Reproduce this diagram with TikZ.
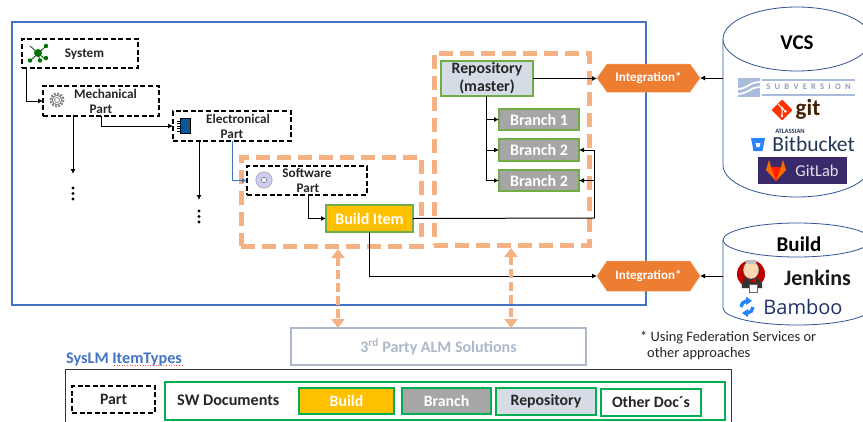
\documentclass[tikz,border=0pt]{standalone}
\usepackage{fontspec}
\setmainfont{Carlito}
\newfontfamily\logofont{Open Sans}
\usetikzlibrary{arrows.meta}
\definecolor{frameblue}{HTML}{4472C4}
\definecolor{peach}{HTML}{F4B183}
\definecolor{leaf}{HTML}{70AD47}
\definecolor{docgreen}{HTML}{00B050}
\definecolor{hexorange}{HTML}{ED7D31}
\definecolor{gold}{HTML}{FFC000}
\definecolor{midgrey}{HTML}{A6A6A6}
\definecolor{paleblue}{HTML}{D6DCE5}
\definecolor{almgrey}{HTML}{ADB9CA}
\definecolor{cylblue}{HTML}{2F5597}
\definecolor{svnblue}{HTML}{A9BCDD}
\definecolor{navy}{HTML}{253858}
\definecolor{bitblue}{HTML}{2684FF}
\definecolor{labpurple}{HTML}{3B2A6B}
\newcommand{\bx}[7]{%
  \pgfmathsetmacro{\bxw}{#5-#3}\pgfmathsetmacro{\bxh}{#6-#4}%
  \pgfmathsetmacro{\bxx}{(#5+#3)/2}\pgfmathsetmacro{\bxy}{(#6+#4)/2}%
  \node[#2,minimum width=\bxw pt,minimum height=\bxh pt] (#1) at (\bxx,\bxy) {#7};}
\newcommand{\hexat}[5]{%
  \pgfmathsetmacro{\hm}{(#3+#5)/2}%
  \filldraw[fill=hexorange,draw=hexorange!70,line width=.5pt] (#2,\hm) -- (#2+10,#3) -- (#4-10,#3) -- (#4,\hm) -- (#4-10,#5) -- (#2+10,#5) -- cycle;
  \bx{#1}{base,text=white,font=\bfseries\fontsize{13}{14}\selectfont}{#2}{#3}{#4}{#5}{Integration*}}
\tikzset{
  base/.style={inner sep=0pt,outer sep=0pt,align=center},
  partbox/.style={base,draw=black,line width=1.9pt,dash pattern=on 5pt off 2.6pt},
  parttext/.style={inner sep=0pt,font=\bfseries\fontsize{13.2}{14}\selectfont,text=black!85},
  zone/.style={base,draw=peach,line width=5pt,dash pattern=on 14pt off 7pt},
  conn/.style={draw=black,line width=1pt,-{Latex[length=5pt,width=5pt]}},
  bluecon/.style={conn,draw=frameblue,-{Latex[length=5pt,width=5pt,color=frameblue]}},
  peacharrow/.style={draw=peach,line width=3.4pt,dash pattern=on 9pt off 4pt,{Triangle[length=9pt,width=13pt,color=peach]}-{Triangle[length=9pt,width=13pt,color=peach]}},
  repo/.style={base,draw=leaf,fill=paleblue,line width=1.8pt,font=\bfseries\fontsize{15.8}{18}\selectfont,text=black!85},
  branchbox/.style={base,draw=leaf,fill=midgrey,line width=1.8pt,font=\bfseries\fontsize{16}{16}\selectfont,text=white},
  builditem/.style={base,draw=leaf,fill=gold,line width=1.8pt,font=\bfseries\fontsize{16}{16}\selectfont,text=white},
  legbox/.style={base,line width=1.8pt,draw=docgreen,font=\bfseries\fontsize{15.8}{17}\selectfont},
  cyl/.style={draw=cylblue,line width=.8pt,fill=white},
  vdots/.style={inner sep=0pt,outer sep=0pt,minimum width=4pt},
}
\begin{document}
\begin{tikzpicture}[x=1pt,y=-1pt]
\clip (0,0) rectangle (863,421);
\fill[white] (0,0) rectangle (863,421);
% main frame
\draw[frameblue,line width=2pt] (12,22) rectangle (646,305);
% zones
\bx{zoneA}{zone}{241}{157}{421}{246}{}
\bx{zoneB}{zone}{434}{53}{589}{245}{}
% part boxes
\bx{sys}{partbox}{22}{39}{138}{68}{}
\bx{mech}{partbox}{43}{86}{159}{116}{}
\bx{elec}{partbox}{173}{111}{291}{141}{}
\bx{soft}{partbox}{247}{166}{367}{195}{}
\node[parttext] (tsys) at (84.5,54) {System};
\node[parttext] (tmecha) at (105.5,94) {Mechanical};
\node[parttext] (tmechb) at (101,109) {Part};
\node[parttext] (telea) at (238,119) {Electronical};
\node[parttext] (teleb) at (232,134) {Part};
\node[parttext] (tsofa) at (307,173) {Software};
\node[parttext] (tsofb) at (308,188) {Part};
% icons in parts
\begin{scope}[shift={(38,53)}]
  \draw[black!70!green,line width=.8pt] (-8,-7)--(8,7) (8,-7)--(-8,8) (0,0)--(2,8);
  \fill[green!45!black] (0,0) circle (4);
  \foreach \p in {(-8,7.5),(2,7.5),(8,5),(8,-7)} \fill[green!45!black] \p circle (2.2);
\end{scope}
\begin{scope}[shift={(57,100)}]
  \draw[gray,line width=1.8pt,dash pattern=on 2pt off 1.4pt] (0,0) circle (6.5);
  \draw[gray,line width=1pt] (0,0) circle (4.8);
  \draw[gray,line width=.8pt] (0,0) circle (2.5);
\end{scope}
\begin{scope}[shift={(185,126)}]
  \draw[black,line width=.6pt] (-8,-5)--(0,-5) (-8,-2.5)--(0,-2.5) (-8,0)--(0,0) (-8,2.5)--(0,2.5) (-8,5)--(0,5);
  \fill[teal!70!blue] (-4.5,-8) rectangle (5,7.5);
  \draw[black,line width=.6pt] (-4.5,-8) rectangle (5,7.5);
  \draw[black!70,line width=.6pt] (0,-5)--(3,-5)--(3,3);
\end{scope}
\begin{scope}[shift={(264,180)}]
  \fill[gray!40!blue!25!white] (0,0) circle (8.2);
  \draw[gray!70,line width=.6pt] (0,0) circle (8.2);
  \fill[white] (0,0) circle (3);
  \draw[gray!80!black,line width=.6pt] (0,0) circle (2.6);
\end{scope}
% repository, branches, build item
\bx{rep}{repo}{441}{61}{533}{96}{Repository\\(master)}
\bx{bra}{branchbox}{499}{109}{579}{130}{Branch 1}
\bx{brb}{branchbox}{499}{139}{579}{161}{Branch 2}
\bx{brc}{branchbox}{499}{170}{579}{191}{Branch 2}
\bx{bld}{builditem}{326}{205}{413}{232}{Build Item}
% integration
\hexat{ia}{597}{64}{700}{92}
\hexat{ib}{597}{261}{700}{291}
% dots
\node[vdots,minimum height=38pt] (da) at (73,193) {};
\node[vdots,minimum height=34pt] (db) at (199,217) {};
\foreach \y in {188,193.5,199} \fill[black] (73,\y) circle (1.7);
\foreach \y in {211,216.5,222} \fill[black] (199,\y) circle (1.7);
% connectors
\draw[conn] ([xshift=4pt]sys.south west) |- (mech.west);
\draw[conn] ([xshift=30pt]mech.south west) -- (da.north);
\draw[conn] ([xshift=58pt]mech.south west) |- (elec.west);
\draw[conn] ([xshift=26pt]elec.south west) -- (db.north);
\draw[bluecon] ([xshift=59pt]elec.south west) |- (soft.west);
\draw[conn] ([xshift=61pt]soft.south west) |- (bld.west);
\draw[conn] ([xshift=43pt]bld.south west) |- (ib.west);
\coordinate (busfoot) at (594.5,218);
\draw[conn,-] (bld.east) -- (busfoot);
\draw[conn] (busfoot) |- (brb.east);
\draw[conn] (busfoot) |- (brc.east);
\draw[conn] (rep.east) -- (rep.east -| ia.west);
\draw[conn] ([xshift=45pt]rep.south west) |- (bra.west);
\draw[conn] ([xshift=45pt]rep.south west) |- (brb.west);
\draw[conn] ([xshift=45pt]rep.south west) |- (brc.west);
% ALM
\bx{alm}{base,draw=almgrey,line width=2.6pt,text=almgrey,font=\bfseries\fontsize{16}{17}\selectfont}{291}{328}{586}{365}{3\textsuperscript{rd} Party ALM Solutions}
\draw[peacharrow] (zoneA.south -| 338,0) ++(0,3) -- (alm.north -| 338,0);
\draw[peacharrow] (zoneB.south -| 511,0) ++(0,3) -- (alm.north -| 511,0);
% VCS cylinder
\draw[cyl] (723,39) -- (723,165) arc[start angle=180,end angle=0,x radius=74,y radius=32] -- (871,39);
\draw[cyl] (797,39) ellipse[x radius=74,y radius=32];
\node[inner sep=0pt,font=\bfseries\fontsize{21}{22}\selectfont] (tvcs) at (797,43) {VCS};
\coordinate (vcsport) at (723,78);
\draw[conn] (vcsport) -- (ia.east);
% Subversion
\begin{scope}
  \fill[svnblue] (738,78) rectangle (760,97);
  \draw[white,line width=1.8pt] (738,89) .. controls (750,88) and (746,83) .. (760,82);
  \draw[white,line width=1.8pt] (738,94) .. controls (750,93) and (748,88) .. (760,87);
  \fill[svnblue] (762,78.5) rectangle (855,80.5);
  \fill[svnblue] (762,93.5) rectangle (855,95.5);
  \node[inner sep=0pt,text=svnblue!85!black,font=\bfseries\fontsize{8.5}{9}\selectfont] (tsvn) at (808.5,87) {S\,\,\,U\,\,\,B\,\,\,V\,\,\,E\,\,\,R\,\,\,S\,\,\,I\,\,\,O\,\,\,N};
\end{scope}
% git
\fill[orange!40!red,rounded corners=1pt] (782,99.5)--(792.5,110)--(782,120.5)--(771.5,110)--cycle;
\draw[white,line width=1pt] (778,104)--(785.5,111.5) (782,108)--(782,116);
\fill[white] (785.5,111.5) circle (1.4) (782,116) circle (1.4) (782,108) circle (1.4);
\node[inner sep=0pt,text=black!75!orange,font=\bfseries\fontsize{23}{24}\selectfont] (tgit) at (808,109) {git};
% Bitbucket
\node[inner sep=0pt,text=navy,font=\bfseries\fontsize{6.5}{7}\selectfont] (tatl) at (790,131) {ATLASSIAN};
\node[inner sep=0pt,text=navy,font=\fontsize{21.5}{22}\selectfont] (tbit) at (813.5,144) {Bitbucket};
\fill[bitblue] (751,138)--(765,138)--(762.5,151)--(753.5,151)--cycle;
\fill[white] (755.5,143)--(760.5,143)--(759.5,147)--(756.5,147)--cycle;
% GitLab
\fill[labpurple] (758,157) rectangle (847,184);
\fill[orange!85!red] (766,170)--(769,160)--(771,167)--(781,167)--(783,160)--(786,170)--(776,181)--cycle;
\fill[red!75!orange] (771,167)--(781,167)--(776,181)--cycle;
\node[inner sep=0pt,text=white!85!labpurple,font=\fontsize{16.5}{17}\selectfont] (tlab) at (817,170.5) {GitLab};
% Build cylinder
\draw[cyl] (723,240) -- (723,308) arc[start angle=180,end angle=0,x radius=74,y radius=17] -- (871,240);
\draw[cyl] (797,240) ellipse[x radius=74,y radius=17];
\node[inner sep=0pt,font=\bfseries\fontsize{21}{22}\selectfont] (tbuild) at (799,244) {Build};
\coordinate (bldport) at (723,276);
\draw[conn] (bldport) -- (ib.east);
% Jenkins icon
\begin{scope}[shift={(752,275)}]
  \fill[red!75!black] (-1,-1) circle (14);
  \fill[black!80] (-10,13) .. controls (-11,5) and (-6,2) .. (0,2) .. controls (6,2) and (11,6) .. (10,13) -- cycle;
  \fill[orange!30!white] (-1,-5) ellipse[x radius=8,y radius=9];
  \draw[black!70,line width=.5pt] (-1,-5) ellipse[x radius=8,y radius=9];
  \fill[gray!50] (-1,-13) ellipse[x radius=6,y radius=2];
  \fill[red!80!black] (-3,6) -- (4,3.5) -- (4,8) -- cycle;
  \fill[white] (-3,9) rectangle (5,17);
  \draw[black!60,line width=.4pt] (-3,9) rectangle (5,17);
\end{scope}
\node[inner sep=0pt,font=\bfseries\fontsize{22}{23}\selectfont,text=black!90] (tjen) at (817.5,278) {Jenkins};
% Bamboo
\begin{scope}[shift={(747,307)}]
  \draw[bitblue,line width=3.5pt] (-6,0) arc[start angle=180,end angle=265,radius=6];
  \fill[bitblue] (-1,-10.5) -- (5,-6) -- (-1,-2) -- cycle;
  \draw[bitblue,line width=3.5pt] (6,0) arc[start angle=0,end angle=85,radius=6];
  \fill[bitblue] (1,2) -- (-5,6) -- (1,10) -- cycle;
\end{scope}
\node[inner sep=0pt,text=navy!90!blue,font=\logofont\fontsize{20}{21}\selectfont] (tbam) at (803,307) {Bamboo};
% footnote
\node[anchor=west,inner sep=0pt,font=\fontsize{14.4}{15}\selectfont,text=black!85] (fna) at (640,338) {* Using Federation Services or};
\node[anchor=west,inner sep=0pt,font=\fontsize{14.4}{15}\selectfont,text=black!85] (fnb) at (647,354) {other approaches};
% legend
\node[anchor=west,inner sep=0pt,text=frameblue,font=\bfseries\fontsize{16.2}{17}\selectfont] (tleg) at (66,359) {SysLM ItemTypes};
\draw[red!70,line width=.6pt,dotted] (114,365) -- (183,365);
\draw[black!80,line width=1pt] (65,369.5) rectangle (731,430);
\bx{lpart}{partbox,font=\bfseries\fontsize{15.8}{17}\selectfont,text=black!85,line width=1.6pt}{72}{386}{155}{413}{Part}
\draw[docgreen,line width=1.6pt] (165,382) rectangle (725,420);
\node[anchor=west,inner sep=0pt,font=\bfseries\fontsize{16.2}{17}\selectfont,text=black!85] (tsw) at (177,400) {SW Documents};
\bx{lbuild}{legbox,fill=gold,text=white}{299}{388}{394}{414}{Build}
\bx{lbranch}{legbox,fill=midgrey,text=white}{402}{388}{491}{414}{Branch}
\bx{lrepo}{legbox,fill=paleblue,text=black!85}{496}{388}{596}{415}{Repository}
\bx{lother}{legbox,fill=white,text=black!85}{601}{389}{701}{416}{Other Doc´s}
\end{tikzpicture}
\end{document}
